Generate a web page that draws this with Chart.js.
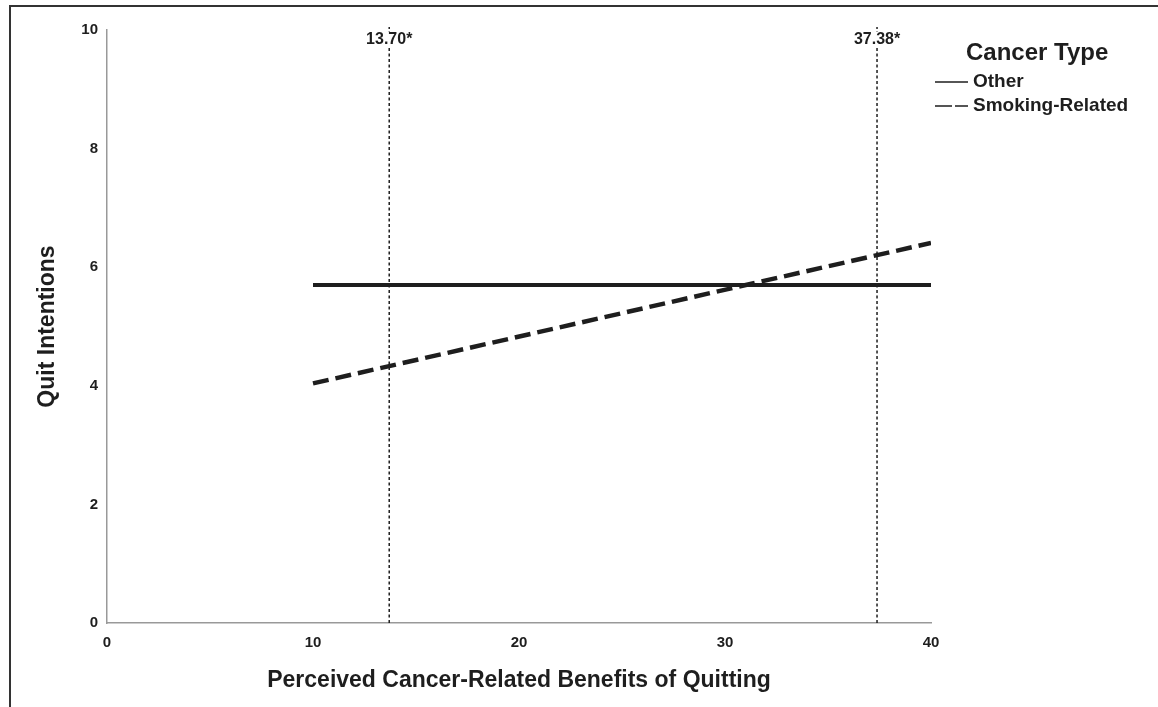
<!DOCTYPE html>
<html>
<head>
    <title>Quit Intentions</title>
    <style>
        body {
            margin: 0;
            background-color: #fff;
            overflow: hidden;
        }
        canvas {
            display: block;
        }
    </style>
    <script src="https://cdn.jsdelivr.net/npm/chart.js"></script>
</head>
<body>
    <canvas id="quitChart" width="1158" height="707"></canvas>

    <script>
        // values
        var benefitsX = [10, 40];
        var otherQuit = [5.70, 5.70];
        var smokingQuit = [4.04, 6.41];
        var regionPoints = [13.70, 37.38];
        var regionLabels = ['13.70*', '37.38*'];
        var seriesLabels = ['Other', 'Smoking-Related'];
        var legendTitle = 'Cancer Type';

        var FONT = "'Liberation Sans', Arial, sans-serif";
        var INK = '#1e1e1e';

        function toPoints(xs, ys) {
            return xs.map(function (x, i) { return { x: x, y: ys[i] }; });
        }

        var datasets = [
            {
                label: seriesLabels[0],
                data: toPoints(benefitsX, otherQuit),
                borderColor: INK,
                borderWidth: 4,
                showLine: true,
                pointRadius: 0
            },
            {
                label: seriesLabels[1],
                data: toPoints(benefitsX, smokingQuit),
                borderColor: INK,
                borderWidth: 4.5,
                borderDash: [16, 7],
                showLine: true,
                pointRadius: 0
            }
        ];
        // dotted region-of-significance lines
        regionPoints.forEach(function (x) {
            datasets.push({
                label: 'jn',
                data: [{ x: x, y: 0 }, { x: x, y: 10.05 }],
                borderColor: INK,
                borderWidth: 1.5,
                borderDash: [3, 2.5],
                showLine: true,
                pointRadius: 0,
                clip: false
            });
        });

        var framePlugin = {
            id: 'frame',
            beforeDraw: function (chart) {
                var ctx = chart.ctx;
                ctx.save();
                ctx.strokeStyle = '#333';
                ctx.lineWidth = 2;
                ctx.beginPath();
                ctx.moveTo(10, 707);
                ctx.lineTo(10, 6);
                ctx.lineTo(1158, 6);
                ctx.stroke();
                ctx.restore();
            },
            afterDraw: function (chart) {
                var ctx = chart.ctx;
                var xs = chart.scales.x;
                ctx.save();
                // labels on top of the dotted lines
                ctx.font = 'bold 16px ' + FONT;
                ctx.textAlign = 'center';
                ctx.textBaseline = 'middle';
                regionPoints.forEach(function (x, i) {
                    var px = xs.getPixelForValue(x);
                    var w = ctx.measureText(regionLabels[i]).width;
                    ctx.fillStyle = '#fff';
                    ctx.fillRect(px - w / 2 - 2, 32, w + 4, 15);
                    ctx.fillStyle = INK;
                    ctx.fillText(regionLabels[i], px, 40);
                });

                // legend
                ctx.textAlign = 'left';
                ctx.font = 'bold 24px ' + FONT;
                ctx.fillText(legendTitle, 966, 53);
                ctx.font = 'bold 19px ' + FONT;
                var rows = [82, 106];
                chart.data.datasets.slice(0, 2).forEach(function (ds, i) {
                    var y = rows[i];
                    ctx.strokeStyle = INK;
                    ctx.lineWidth = 1.5;
                    ctx.setLineDash(ds.borderDash ? [17, 3] : []);
                    ctx.beginPath();
                    ctx.moveTo(935, y);
                    ctx.lineTo(968, y);
                    ctx.stroke();
                    ctx.setLineDash([]);
                    ctx.fillText(ds.label, 973, y);
                });
                ctx.restore();
            }
        };

        var quitChart = new Chart(
            document.getElementById('quitChart'),
            {
                type: 'scatter',
                data: { datasets: datasets },
                options: {
                    responsive: false,
                    animation: false,
                    layout: {
                        padding: { left: 0, top: 30, right: 227, bottom: 0 }
                    },
                    plugins: {
                        legend: { display: false },
                        tooltip: { enabled: false }
                    },
                    scales: {
                        x: {
                            type: 'linear',
                            min: 0,
                            max: 40,
                            afterFit: function (scale) { scale.height = 84; },
                            ticks: {
                                stepSize: 10,
                                padding: 11,
                                color: INK,
                                font: { family: FONT, size: 15, weight: 'bold' }
                            },
                            grid: { display: false, drawTicks: false },
                            border: { color: '#999', width: 1.5 },
                            title: {
                                display: true,
                                text: 'Perceived Cancer-Related Benefits of Quitting',
                                color: INK,
                                font: { family: FONT, size: 23, weight: 'bold' },
                                padding: { top: 0, bottom: 13 }
                            }
                        },
                        y: {
                            min: 0,
                            max: 10,
                            afterFit: function (scale) { scale.width = 107; },
                            ticks: {
                                stepSize: 2,
                                padding: 9,
                                color: INK,
                                font: { family: FONT, size: 15, weight: 'bold' }
                            },
                            grid: { display: false, drawTicks: false },
                            border: { color: '#999', width: 1.5 },
                            title: {
                                display: true,
                                text: 'Quit Intentions',
                                color: INK,
                                font: { family: FONT, size: 23, weight: 'bold' },
                                padding: { top: 34, bottom: 0 }
                            }
                        }
                    }
                },
                plugins: [framePlugin]
            }
        );
    </script>
</body>
</html>
